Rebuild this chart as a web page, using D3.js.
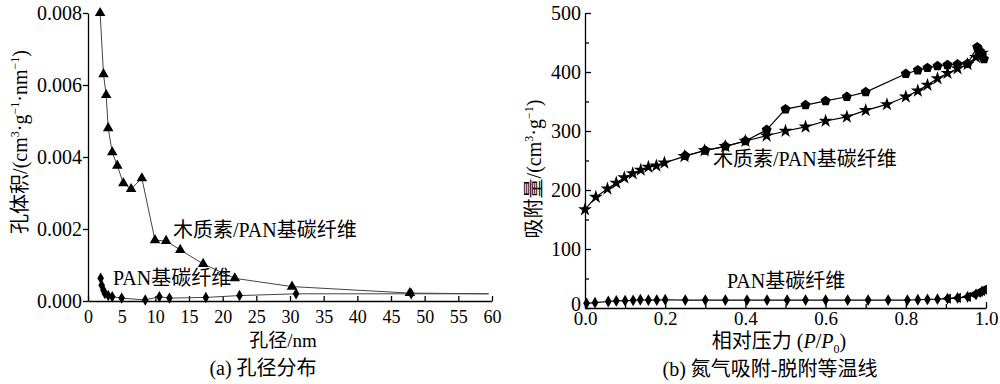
<!DOCTYPE html>
<html><head><meta charset="utf-8">
<script src="https://cdn.jsdelivr.net/npm/d3@7"></script>
<style>
body{margin:0;background:#fff;}
svg text{font-family:"Liberation Serif","Times New Roman","Noto Sans CJK SC",serif;fill:#000;}
</style></head>
<body><svg id="c" width="1000" height="384"></svg>
<script>
// ---- Data (a) pore size distribution
const poreXLignin = [1.8, 2.3, 2.7, 3.0, 3.6, 4.35, 5.25, 6.4, 8.0, 9.95, 11.6, 13.7, 17.1, 21.8, 30.3, 47.8, 59.5];
const poreYLignin = [0.0080, 0.0063, 0.00572, 0.0048, 0.00413, 0.00376, 0.00327, 0.00311, 0.00341, 0.00169, 0.00167, 0.00142, 0.00103, 0.00063, 0.00040, 0.00022, 0.00020];
const poreXPan = [1.88, 2.03, 2.3, 2.5, 3.0, 3.6, 5.0, 8.5, 10.6, 12.1, 17.5, 22.5, 30.9, 48.0, 59.5];
const poreYPan = [0.00063, 0.00044, 0.00030, 0.00021, 0.00015, 0.00012, 0.00008, 0.00003, 0.00012, 0.00008, 0.00010, 0.00015, 0.00020, 0.00020, 0.00020];
const poreXTicks = [0,5,10,15,20,25,30,35,40,45,50,55,60];
const poreYTicks = [0, 0.002, 0.004, 0.006, 0.008];
const poreYTickLabels = ["0.000","0.002","0.004","0.006","0.008"];

// ---- Data (b) N2 isotherms
const ligAdsP = [0.0, 0.027, 0.056, 0.078, 0.098, 0.119, 0.139, 0.158, 0.178, 0.198, 0.248, 0.298, 0.35, 0.40, 0.453, 0.50, 0.55, 0.60, 0.653, 0.70, 0.753, 0.80, 0.83, 0.854, 0.879, 0.904, 0.929, 0.954, 0.975, 0.99];
const ligAdsV = [167, 188, 202, 212, 221, 228, 234, 239, 241, 246, 257, 267, 274, 283, 292, 300, 307, 317, 324, 335, 345, 358, 368, 378, 389, 398, 406, 413, 425, 432];
const ligDesP = [0.995, 0.99, 0.985, 0.978, 0.954, 0.929, 0.904, 0.879, 0.854, 0.83, 0.80, 0.70, 0.653, 0.60, 0.55, 0.50, 0.453, 0.40, 0.35, 0.30, 0.25];
const ligDesV = [422, 428, 435, 442, 414, 413, 412, 410, 407, 403, 397, 366, 358, 351, 344, 337, 302, 283, 274, 267, 258];
const panAdsP = [0.004, 0.025, 0.058, 0.078, 0.10, 0.12, 0.138, 0.158, 0.179, 0.20, 0.25, 0.30, 0.35, 0.404, 0.454, 0.504, 0.55, 0.60, 0.655, 0.706, 0.756, 0.804, 0.83, 0.854, 0.879, 0.904, 0.929, 0.954, 0.975, 0.99];
const panAdsV = [8, 9, 11, 12, 12.5, 13, 14, 13.5, 13.5, 14, 13.5, 13.5, 13.5, 13.5, 13.5, 13.5, 13.5, 13.5, 13.5, 13.5, 13.5, 13.5, 14, 14.5, 15, 16, 17, 19, 23, 28];
const panDesP = [0.995, 0.99, 0.98, 0.97, 0.955, 0.93, 0.905];
const panDesV = [31, 29, 26, 23, 19, 17, 16];
const isoXTicks = [0, 0.2, 0.4, 0.6, 0.8, 1.0];
const isoXTickLabels = ["0.0","0.2","0.4","0.6","0.8","1.0"];
const isoYTicks = [0, 100, 200, 300, 400, 500];

const svg = d3.select("#c");
const zip = (a,b)=>a.map((v,i)=>[v,b[i]]);
const SERIF = '"Liberation Serif","Times New Roman",serif';

// pentagon symbol
const symbolPentagon = {draw(ctx, size){
  const r = Math.sqrt(size/2.378);
  for(let i=0;i<5;i++){const a=-Math.PI/2+i*2*Math.PI/5;
    const x=r*Math.cos(a), y=r*Math.sin(a); if(i===0)ctx.moveTo(x,y); else ctx.lineTo(x,y);}
  ctx.closePath();}};

function drawSeries(g, x, y, data, symType, symSize, opts={}){
  const line = d3.line().x(d=>x(d[0])).y(d=>y(d[1]));
  g.append("path").datum(data).attr("d", line).attr("fill","none")
    .attr("stroke", opts.stroke||"#000").attr("stroke-width", opts.sw||1.2);
  const pts = opts.skipLast ? data.slice(0,-1) : data;
  g.selectAll(null).data(pts).enter().append("path")
    .attr("d", d3.symbol().type(symType).size(symSize))
    .attr("transform", d=>`translate(${x(d[0])},${y(d[1])})${opts.rot?` rotate(${opts.rot})`:""}`)
    .attr("fill","#000");
}
function styleTicks(sel, size){
  sel.selectAll("text").style("font-family", SERIF).style("font-size", size).attr("fill","#000");
}

// ---------- Panel (a)
{
  const x = d3.scaleLinear().domain([0,60]).range([88,492]);
  const y = d3.scaleLinear().domain([0,0.008]).range([301,13]);
  const g = svg.append("g");
  const ax = d3.axisBottom(x).tickValues(poreXTicks).tickSizeInner(-5).tickSizeOuter(0).tickPadding(9);
  const gx = g.append("g").attr("transform","translate(0,301)").call(ax);
  styleTicks(gx, "18px");
  const ay = d3.axisLeft(y).tickValues(poreYTicks).tickFormat((d,i)=>poreYTickLabels[i]).tickSizeInner(5).tickSizeOuter(0).tickPadding(1);
  const gy = g.append("g").attr("transform","translate(88,0)").call(ay);
  styleTicks(gy, "20px");
  g.selectAll(".domain, .tick line").attr("stroke","#000").attr("stroke-width",1.3);

  drawSeries(g, x, y, zip(poreXPan, poreYPan), d3.symbolDiamond, 38, {stroke:"#444", sw:1, skipLast:true});
  drawSeries(g, x, y, zip(poreXLignin, poreYLignin), d3.symbolTriangle, 48, {stroke:"#444", sw:1, skipLast:true});

  g.append("text").attr("x",173).attr("y",237).attr("font-size","20px").text("木质素/PAN基碳纤维");
  g.append("text").attr("x",113).attr("y",285).attr("font-size","20px").text("PAN基碳纤维");
  g.append("text").attr("x",283).attr("y",347).attr("text-anchor","middle").attr("font-size","19px").text("孔径/nm");
  g.append("text").attr("x",263).attr("y",375).attr("text-anchor","middle").attr("font-size","20px").text("(a) 孔径分布");
  const yt = g.append("text").attr("transform","translate(27,142) rotate(-90)").attr("text-anchor","middle").attr("font-size","20px");
  yt.append("tspan").text("孔体积/(cm");
  yt.append("tspan").attr("font-size","12px").attr("dy","-8").text("3");
  yt.append("tspan").attr("dy","8").text("·g");
  yt.append("tspan").attr("font-size","12px").attr("dy","-8").text("−1");
  yt.append("tspan").attr("dy","8").text("·nm");
  yt.append("tspan").attr("font-size","12px").attr("dy","-8").text("−1");
  yt.append("tspan").attr("dy","8").text(")");
}

// ---------- Panel (b)
{
  const x = d3.scaleLinear().domain([0,1]).range([585,986]);
  const y = d3.scaleLinear().domain([0,500]).range([308,13]);
  const g = svg.append("g");
  const ax = d3.axisBottom(x).tickValues(isoXTicks).tickFormat((d,i)=>isoXTickLabels[i]).tickSizeInner(-6).tickSizeOuter(0).tickPadding(3);
  const gx = g.append("g").attr("transform","translate(0,308)").call(ax);
  styleTicks(gx, "19px");
  const axm = d3.axisBottom(x).tickValues([0.1,0.3,0.5,0.7,0.9]).tickFormat("").tickSizeInner(-4).tickSizeOuter(0);
  g.append("g").attr("transform","translate(0,308)").call(axm).select(".domain").remove();
  const ay = d3.axisLeft(y).tickValues(isoYTicks).tickSizeInner(-6).tickSizeOuter(0).tickPadding(4);
  const gy = g.append("g").attr("transform","translate(585,0)").call(ay);
  styleTicks(gy, "20px");
  gy.selectAll(".tick").filter(d=>d===0).select("text").attr("dy","0.1em");
  const aym = d3.axisLeft(y).tickValues([50,150,250,350,450]).tickFormat("").tickSizeInner(-4).tickSizeOuter(0);
  g.append("g").attr("transform","translate(585,0)").call(aym).select(".domain").remove();
  g.selectAll(".domain, .tick line").attr("stroke","#000").attr("stroke-width",1.3);

  drawSeries(g, x, y, zip(panAdsP, panAdsV), d3.symbolDiamond, 40, {});
  drawSeries(g, x, y, zip(panDesP, panDesV), d3.symbolTriangle, 45, {rot:-90});
  drawSeries(g, x, y, zip(ligAdsP, ligAdsV), d3.symbolStar, 60, {});
  drawSeries(g, x, y, zip(ligDesP, ligDesV), symbolPentagon, 65, {});

  g.append("text").attr("x",713).attr("y",166).attr("font-size","20px").text("木质素/PAN基碳纤维");
  g.append("text").attr("x",727).attr("y",288).attr("font-size","20px").text("PAN基碳纤维");
  const xt = g.append("text").attr("x",779).attr("y",348).attr("text-anchor","middle").attr("font-size","20px");
  xt.append("tspan").text("相对压力 (");
  xt.append("tspan").attr("font-style","italic").text("P");
  xt.append("tspan").text("/");
  xt.append("tspan").attr("font-style","italic").text("P");
  xt.append("tspan").attr("font-size","12px").attr("dy","5").text("0");
  xt.append("tspan").attr("dy","-5").text(")");
  g.append("text").attr("x",770).attr("y",376).attr("text-anchor","middle").attr("font-size","20px").text("(b) 氮气吸附-脱附等温线");
  const yt = g.append("text").attr("transform","translate(541,169) rotate(-90)").attr("text-anchor","middle").attr("font-size","20px");
  yt.append("tspan").text("吸附量/(cm");
  yt.append("tspan").attr("font-size","12px").attr("dy","-8").text("3");
  yt.append("tspan").attr("dy","8").text("·g");
  yt.append("tspan").attr("font-size","12px").attr("dy","-8").text("−1");
  yt.append("tspan").attr("dy","8").text(")");
}
</script></body></html>
